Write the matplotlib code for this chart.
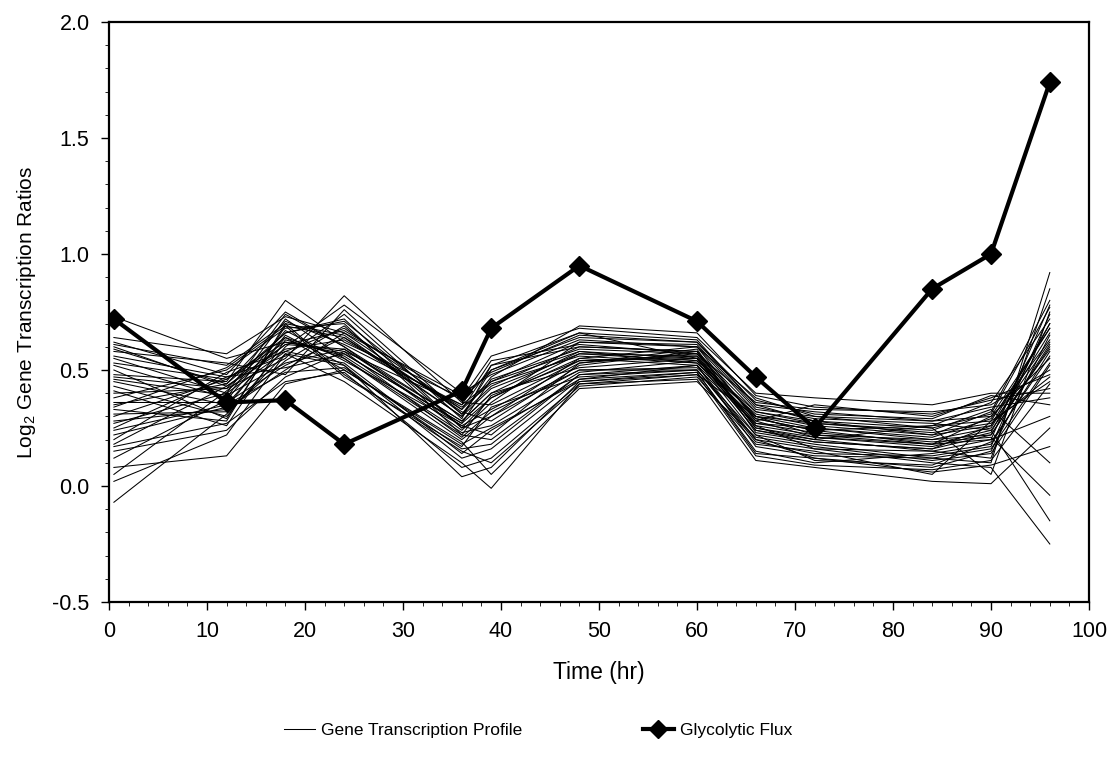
import matplotlib
matplotlib.use("Agg")
import matplotlib.pyplot as plt
from matplotlib.lines import Line2D
from matplotlib.ticker import MultipleLocator

plt.rcParams['font.family'] = ['Liberation Sans', 'DejaVu Sans']
plt.rcParams['mathtext.fontset'] = 'custom'
plt.rcParams['mathtext.rm'] = 'Liberation Sans'

times = [0.5, 12, 18, 24, 36, 39, 48, 60, 66, 72, 84, 90, 96]

flux = [0.72, 0.36, 0.37, 0.18, 0.41, 0.68, 0.95, 0.71, 0.47, 0.25, 0.85, 1.00, 1.74]

genes = [
    [0.73, 0.55, 0.62, 0.58, 0.35, 0.45, 0.62, 0.60, 0.38, 0.30, 0.28, 0.30, 0.55],
    [0.61, 0.52, 0.70, 0.65, 0.30, 0.50, 0.66, 0.63, 0.35, 0.28, 0.22, 0.26, 0.70],
    [0.62, 0.48, 0.75, 0.60, 0.28, 0.40, 0.58, 0.55, 0.30, 0.22, 0.18, 0.20, 0.78],
    [0.59, 0.44, 0.66, 0.72, 0.25, 0.38, 0.55, 0.52, 0.28, 0.35, 0.30, 0.38, 0.48],
    [0.55, 0.40, 0.58, 0.68, 0.33, 0.52, 0.60, 0.58, 0.25, 0.20, 0.15, 0.12, 0.85],
    [0.52, 0.38, 0.72, 0.55, 0.20, 0.30, 0.50, 0.50, 0.22, 0.18, 0.12, 0.10, 0.92],
    [0.48, 0.45, 0.80, 0.62, 0.38, 0.56, 0.68, 0.64, 0.40, 0.38, 0.35, 0.40, 0.40],
    [0.45, 0.35, 0.64, 0.50, 0.18, 0.25, 0.45, 0.48, 0.30, 0.25, 0.20, 0.22, 0.60],
    [0.43, 0.30, 0.60, 0.78, 0.40, 0.48, 0.63, 0.60, 0.33, 0.30, 0.25, 0.05, 0.75],
    [0.40, 0.42, 0.55, 0.82, 0.36, 0.35, 0.54, 0.56, 0.26, 0.16, 0.10, 0.08, -0.25],
    [0.38, 0.50, 0.68, 0.70, 0.22, 0.20, 0.48, 0.52, 0.20, 0.12, 0.08, 0.15, 0.65],
    [0.36, 0.36, 0.52, 0.64, 0.30, 0.42, 0.57, 0.54, 0.32, 0.27, 0.24, 0.33, 0.10],
    [0.33, 0.28, 0.70, 0.48, 0.15, 0.10, 0.43, 0.47, 0.18, 0.15, 0.05, 0.28, 0.45],
    [0.30, 0.46, 0.62, 0.57, 0.27, 0.46, 0.59, 0.57, 0.36, 0.33, 0.32, 0.35, 0.50],
    [0.28, 0.33, 0.50, 0.66, 0.32, 0.28, 0.52, 0.58, 0.29, 0.24, 0.18, 0.30, 0.68],
    [0.27, 0.40, 0.74, 0.60, 0.24, 0.36, 0.62, 0.61, 0.34, 0.29, 0.27, 0.24, -0.15],
    [0.25, 0.47, 0.56, 0.74, 0.29, 0.52, 0.66, 0.55, 0.24, 0.20, 0.26, 0.36, 0.72],
    [0.22, 0.34, 0.65, 0.52, 0.12, 0.16, 0.46, 0.49, 0.15, 0.10, 0.14, 0.18, 0.58],
    [0.18, 0.43, 0.59, 0.63, 0.34, 0.44, 0.56, 0.53, 0.31, 0.26, 0.22, 0.32, 0.80],
    [0.15, 0.24, 0.47, 0.58, 0.21, 0.32, 0.50, 0.51, 0.27, 0.23, 0.19, 0.21, -0.04],
    [0.12, 0.37, 0.67, 0.54, 0.26, 0.22, 0.53, 0.59, 0.23, 0.19, 0.16, 0.26, 0.62],
    [0.08, 0.13, 0.44, 0.50, 0.19, 0.05, 0.42, 0.45, 0.21, 0.17, 0.11, 0.14, 0.52],
    [0.05, 0.41, 0.61, 0.67, 0.37, 0.50, 0.64, 0.62, 0.37, 0.31, 0.29, 0.39, 0.35],
    [-0.07, 0.31, 0.57, 0.45, 0.10, -0.01, 0.44, 0.46, 0.11, 0.08, 0.02, 0.01, 0.25],
    [0.58, 0.53, 0.48, 0.76, 0.31, 0.47, 0.69, 0.66, 0.39, 0.34, 0.31, 0.37, 0.42],
    [0.50, 0.29, 0.69, 0.47, 0.17, 0.34, 0.47, 0.50, 0.19, 0.14, 0.13, 0.17, 0.74],
    [0.46, 0.39, 0.53, 0.59, 0.28, 0.40, 0.51, 0.55, 0.26, 0.22, 0.20, 0.25, 0.66],
    [0.41, 0.26, 0.63, 0.56, 0.23, 0.26, 0.49, 0.54, 0.22, 0.11, 0.09, 0.19, 0.56],
    [0.35, 0.44, 0.71, 0.61, 0.35, 0.54, 0.61, 0.57, 0.30, 0.27, 0.23, 0.27, 0.47],
    [0.31, 0.32, 0.54, 0.69, 0.25, 0.30, 0.55, 0.60, 0.28, 0.21, 0.17, 0.23, 0.70],
    [0.20, 0.49, 0.58, 0.53, 0.14, 0.24, 0.46, 0.52, 0.17, 0.13, 0.12, 0.16, 0.53],
    [0.64, 0.57, 0.73, 0.66, 0.39, 0.49, 0.65, 0.62, 0.35, 0.32, 0.28, 0.34, 0.38],
    [0.56, 0.47, 0.51, 0.57, 0.27, 0.38, 0.57, 0.56, 0.27, 0.25, 0.21, 0.29, 0.63],
    [0.47, 0.42, 0.66, 0.71, 0.31, 0.43, 0.60, 0.58, 0.32, 0.28, 0.25, 0.31, 0.77],
    [0.24, 0.35, 0.49, 0.51, 0.16, 0.18, 0.48, 0.50, 0.20, 0.16, 0.15, 0.20, 0.30],
    [0.17, 0.27, 0.45, 0.49, 0.08, 0.12, 0.44, 0.48, 0.13, 0.09, 0.07, 0.11, 0.44],
    [0.34, 0.51, 0.69, 0.64, 0.33, 0.45, 0.58, 0.53, 0.29, 0.24, 0.26, 0.28, 0.68],
    [0.60, 0.43, 0.61, 0.59, 0.26, 0.33, 0.53, 0.57, 0.25, 0.21, 0.18, 0.24, 0.59],
    [0.02, 0.22, 0.57, 0.52, 0.04, 0.08, 0.45, 0.49, 0.14, 0.12, 0.06, 0.09, 0.17],
    [0.53, 0.46, 0.64, 0.55, 0.22, 0.39, 0.54, 0.55, 0.24, 0.19, 0.16, 0.22, 0.61],
]

x_ticks = [0, 10, 20, 30, 40, 50, 60, 70, 80, 90, 100]
y_ticks = [-0.5, 0.0, 0.5, 1.0, 1.5, 2.0]

fig = plt.figure(figsize=(11.12, 7.63), dpi=100)
ax = fig.add_axes([109/1112, 1 - 602/763, (1089 - 109)/1112, (602 - 22)/763])

for g in genes:
    ax.plot(times, g, color='black', linewidth=0.75)

ax.plot(times, flux, color='black', linewidth=3.0, marker='D', markersize=10,
        zorder=5)

ax.set_xlim(0, 100)
ax.set_ylim(-0.5, 2.0)
ax.set_xticks(x_ticks)
ax.set_yticks(y_ticks)
ax.set_xticklabels([str(t) for t in x_ticks])
ax.set_yticklabels(['%.1f' % t for t in y_ticks])
ax.xaxis.set_minor_locator(MultipleLocator(2))
ax.yaxis.set_minor_locator(MultipleLocator(0.1))
ax.tick_params(axis='both', which='major', direction='out', length=6,
               width=1, labelsize=15.5, pad=8, colors='black')
ax.tick_params(axis='both', which='minor', direction='out', length=3,
               width=0.6)
for s in ax.spines.values():
    s.set_linewidth(1.6)
    s.set_color('black')

ax.set_xlabel('Time (hr)', fontsize=16.5, labelpad=13)
ax.set_ylabel('Log$\\mathregular{_2}$ Gene Transcription Ratios', fontsize=15,
              labelpad=10)

handles = [Line2D([0], [0], color='black', linewidth=0.75),
           Line2D([0], [0], color='black', linewidth=3.0, marker='D',
                  markersize=9)]
fig.legend(handles, ['Gene Transcription Profile', 'Glycolytic Flux'],
           loc='center', bbox_to_anchor=(0.484, 0.043), ncol=2,
           frameon=False, fontsize=12.5, handlelength=1.8, handletextpad=0.35,
           columnspacing=6.9)

fig.savefig('out.png', dpi=100)
